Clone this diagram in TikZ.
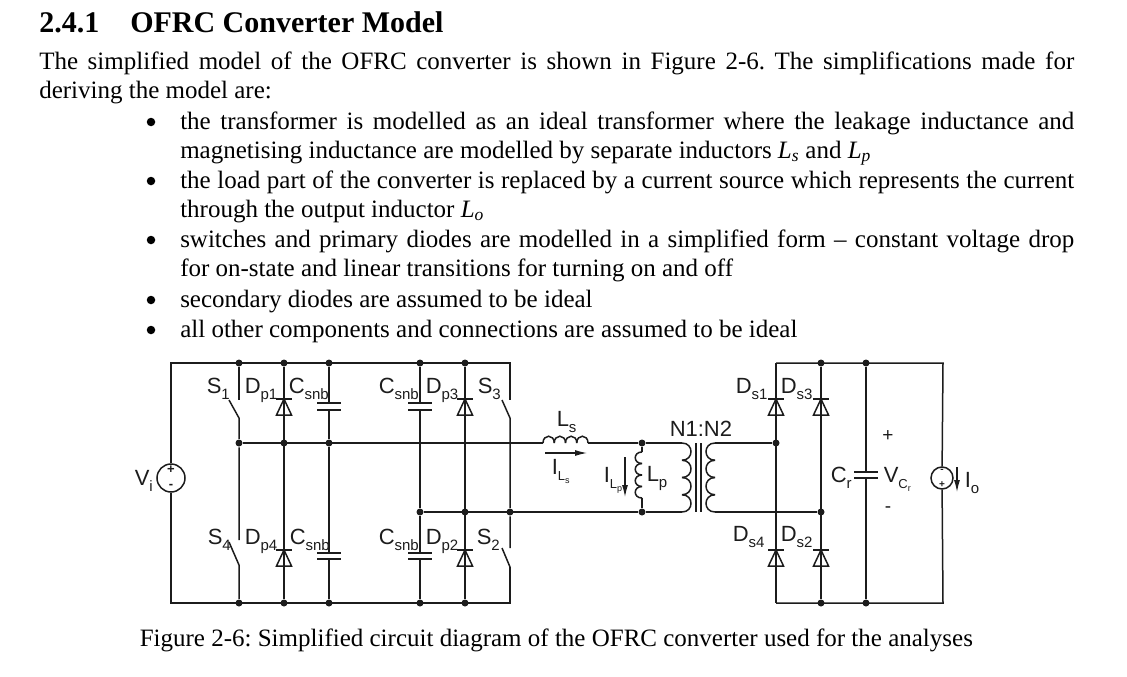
\documentclass[tikz,border=0pt]{standalone}
\usepackage{fontspec}
\setmainfont{Liberation Serif}
\newfontfamily\labfont{Liberation Sans}
\usetikzlibrary{arrows.meta}
\definecolor{wire}{HTML}{1C1C1C}
\frenchspacing
\newcommand{\lab}[2]{#1\raisebox{-6pt}{\fontsize{15}{15}\selectfont #2}}
\newcommand{\subsub}[2]{\fontsize{13}{13}\selectfont #1\raisebox{-3pt}{\fontsize{9}{9}\selectfont #2}}
\newcommand{\fullline}[1]{\hbox to 1035pt{#1}}
\newcommand{\itemline}[1]{\hbox to 894pt{#1}}
\newcommand{\ital}[2]{\textit{#1}\textsubscript{\textit{#2}}}
\begin{document}
\begin{tikzpicture}[x=1pt, y=-1pt, line width=1.5pt, color=wire]
    \tikzstyle{dot}=[circle, fill=wire, inner sep=0pt, minimum size=7pt]
    \tikzstyle{bulletdot}=[circle, fill=black, inner sep=0pt, minimum size=8.5pt]
    \tikzstyle{source}=[circle, draw=wire, inner sep=0pt]
    \tikzstyle{body}=[anchor=base west, inner sep=0pt, text=black, font=\fontsize{25}{25}\selectfont]
    \tikzstyle{headline}=[anchor=base west, inner sep=0pt, text=black, font=\bfseries\fontsize{30}{30}\selectfont]
    \tikzstyle{lbl}=[anchor=base west, inner sep=0pt, font=\labfont\fontsize{22}{22}\selectfont]
    \tikzstyle{current}=[-{Latex[length=12pt,width=6pt]}, line width=1.1pt]
    \useasboundingbox (0,0) rectangle (1127,677);
    % text
    \node [headline] (numhead) at (38.5,33) {2.4.1};
    \node [headline] (head) at (129.5,33) {OFRC Converter Model};
    \node [body] (p1) at (38.5,70) {\fullline{The simplified model of the OFRC converter is shown in Figure 2-6. The simplifications made for}};
    \node [body] (p2) at (38.5,99) {deriving the model are:};
    \node [body] (i1) at (179.5,129) {\itemline{the transformer is modelled as an ideal transformer where the leakage inductance and}};
    \node [body] (i2) at (179.5,158) {magnetising inductance are modelled by separate inductors \ital{L}{s} and \ital{L}{p}};
    \node [body] (i3) at (179.5,188) {\itemline{the load part of the converter is replaced by a current source which represents the current}};
    \node [body] (i4) at (179.5,217) {through the output inductor \ital{L}{o}};
    \node [body] (i5) at (179.5,247) {\itemline{switches and primary diodes are modelled in a simplified form -- constant voltage drop}};
    \node [body] (i6) at (179.5,276) {for on-state and linear transitions for turning on and off};
    \node [body] (i7) at (179.5,307) {secondary diodes are assumed to be ideal};
    \node [body] (i8) at (179.5,337) {all other components and connections are assumed to be ideal};
    \foreach \n/\y in {b1/122, b2/181, b3/240, b4/300, b5/330}
        \node [bulletdot] (\n) at (151,\y) {};
    \node [body] (caption) at (139,646) {Figure 2-6: Simplified circuit diagram of the OFRC converter used for the analyses};
    % junctions
    \foreach \n/\x/\y in {ts1/239/363, td1/284/363, tc1/329/363, tc3/420/363, td3/465/363,
        bs4/239/603, bd4/284/603, bc4/329/603, bc2/420/603, bd2/465/603,
        ms1/239/443, md1/284/443, mc1/329/443, nc3/420/512, nd3/465/512, ns3/510/512,
        mlp/642/443, nlp/642/512, mds/776/443, nds/821/512,
        tds/821/363, tcr/866/363, bds/821/603, bcr/866/603}
        \node [dot] (\n) at (\x,\y) {};
    \foreach \n/\x/\y in {tl/171/363, bl/171/603, tr/510/363, br/510/603, trr/943/363, brr/943/603,
        tdl/776/363, bdl/776/603, nw/543/443, ne/588/443,
        s1a/239/400, s1b/229/400, s1c/239/418, s4a/239/540, s4b/229/542, s4c/239/565,
        s3a/510/400, s3b/502/400, s3c/510/418, s2a/510/548, s2b/502/548, s2c/510/567,
        c1a/329/403, c1b/329/410, c4a/329/553, c4b/329/559,
        c3a/420/403, c3b/420/410, c2a/420/553, c2b/420/559,
        cra/866/472, crb/866/478, lpa/642/452, lpb/642/498, pa/682/443, pb/682/512, sa/715/443, sb/715/512,
        ka1/696/443, kb1/696/512, ka2/701/443, kb2/701/512,
        ila/545/453, ilb/587/453, ipa/625/457, ipb/625/497, ioa/957/467, iob/957/492}
        \coordinate (\n) at (\x,\y);
    % sources
    \node [source, minimum size=28pt] (vi) at (171,478) {};
    \node [source, minimum size=22pt] (io) at (942,478) {};
    \node [inner sep=0pt, font=\labfont\bfseries\fontsize{13}{13}\selectfont] (vip) at (171,470) {+};
    \node [inner sep=0pt, font=\labfont\bfseries\fontsize{13}{13}\selectfont] (vim) at (171,486) {-};
    \node [inner sep=0pt, font=\labfont\bfseries\fontsize{10}{10}\selectfont] (iom) at (942,471) {-};
    \node [inner sep=0pt, font=\labfont\bfseries\fontsize{10}{10}\selectfont] (iop) at (942,485) {+};
    % bridge wires
    \draw (vi) -- (tl) -- (tr) -- (s3a);
    \draw (vi) -- (bl) -- (br) -- (s2c);
    \draw (ts1) -- (s1a);
    \draw (s1b) -- (s1c) -- (ms1) -- (s4a);
    \draw (s4b) -- (s4c) -- (bs4);
    \draw (s3b) -- (s3c) -- (ns3) -- (s2a);
    \draw (s2b) -- (s2c);
    \draw (td1) -- (bd4);
    \draw (td3) -- (bd2);
    \draw (tc1) -- (c1a);
    \draw (c1b) -- (mc1) -- (c4a);
    \draw (c4b) -- (bc4);
    \draw (tc3) -- (c3a);
    \draw (c3b) -- (nc3) -- (c2a);
    \draw (c2b) -- (bc2);
    \draw (ms1) -- (nw);
    \draw (ne) -- (mlp) -- (pa);
    \draw (nc3) -- (nlp) -- (pb);
    \draw (mlp) -- (lpa);
    \draw (lpb) -- (nlp);
    % rectifier wires
    \draw (tdl) -- (bdl);
    \draw (tds) -- (bds);
    \draw (tdl) -- (trr) -- (io);
    \draw (bdl) -- (brr) -- (io);
    \draw (sa) -- (mds);
    \draw (sb) -- (nds);
    \draw (tcr) -- (cra);
    \draw (crb) -- (bcr);
    % core
    \draw (ka1) -- (kb1);
    \draw (ka2) -- (kb2);
    % coils
    \foreach \i in {0,1,2,3} {
        \draw ({543+11.25*\i},443) .. controls ({543+11.25*\i},434) and ({554.25+11.25*\i},434) .. ({554.25+11.25*\i},443);
        \draw (642,{452+11.5*\i}) .. controls (633,{452+11.5*\i}) and (633,{463.5+11.5*\i}) .. (642,{463.5+11.5*\i});
        \draw (682,{443+17.25*\i}) .. controls (694,{443+17.25*\i}) and (694,{460.25+17.25*\i}) .. (682,{460.25+17.25*\i});
        \draw (715,{443+17.25*\i}) .. controls (703,{443+17.25*\i}) and (703,{460.25+17.25*\i}) .. (715,{460.25+17.25*\i});
    }
    % diodes
    \foreach \x/\y in {284/399, 284/550, 465/399, 465/550, 776/399, 776/550, 821/399, 821/550} {
        \draw (\x-8,\y) -- (\x+8,\y);
        \draw (\x,\y) -- (\x-7.5,\y+16) -- (\x+7.5,\y+16) -- cycle;
    }
    % capacitors
    \foreach \x/\y/\z in {329/403/410, 329/553/559, 420/403/410, 420/553/559, 866/472/478} {
        \draw (\x-12,\y) -- (\x+12,\y);
        \draw (\x-12,\z) -- (\x+12,\z);
    }
    % currents
    \draw [current] (ila) -- (ilb);
    \draw [current] (ipa) -- (ipb);
    \draw [current] (ioa) -- (iob);
    % labels
    \node [lbl] (s1) at (206,393) {\lab{S}{1}};
    \node [lbl] (dp1) at (244,393) {\lab{D}{p1}};
    \node [lbl] (cs1) at (288,393) {\lab{C}{snb}};
    \node [lbl] (cs3) at (378,393) {\lab{C}{snb}};
    \node [lbl] (dp3) at (425,393) {\lab{D}{p3}};
    \node [lbl] (s3) at (477,393) {\lab{S}{3}};
    \node [lbl] (s4) at (207,544) {\lab{S}{4}};
    \node [lbl] (dp4) at (244,544) {\lab{D}{p4}};
    \node [lbl] (cs4) at (289,544) {\lab{C}{snb}};
    \node [lbl] (cs2) at (378,544) {\lab{C}{snb}};
    \node [lbl] (dp2) at (425,544) {\lab{D}{p2}};
    \node [lbl] (s2) at (476,544) {\lab{S}{2}};
    \node [lbl] (vil) at (134,485) {\lab{V}{i}};
    \node [lbl] (ls) at (556,426) {\lab{L}{s}};
    \node [lbl] (ils) at (551,474) {\lab{I}{\subsub{L}{s}}};
    \node [lbl] (ilp) at (603,482) {\lab{I}{\subsub{L}{p}}};
    \node [lbl] (lp) at (646,481) {\lab{L}{p}};
    \node [lbl] (n12) at (669,436) {N1:N2};
    \node [lbl] (ds1) at (735,393) {\lab{D}{s1}};
    \node [lbl] (ds3) at (780,393) {\lab{D}{s3}};
    \node [lbl] (ds4) at (732,541) {\lab{D}{s4}};
    \node [lbl] (ds2) at (780,541) {\lab{D}{s2}};
    \node [lbl] (cr) at (830,482) {\lab{C}{r}};
    \node [lbl] (vcr) at (883,482) {\lab{V}{\subsub{C}{r}}};
    \node [lbl] (iol) at (964,487) {\lab{I}{o}};
    \node [anchor=center, inner sep=0pt, font=\labfont\fontsize{19}{19}\selectfont] (plus) at (888,436) {+};
    \node [anchor=center, inner sep=0pt, font=\labfont\fontsize{19}{19}\selectfont] (minus) at (888,510) {-};
\end{tikzpicture}
\end{document}
